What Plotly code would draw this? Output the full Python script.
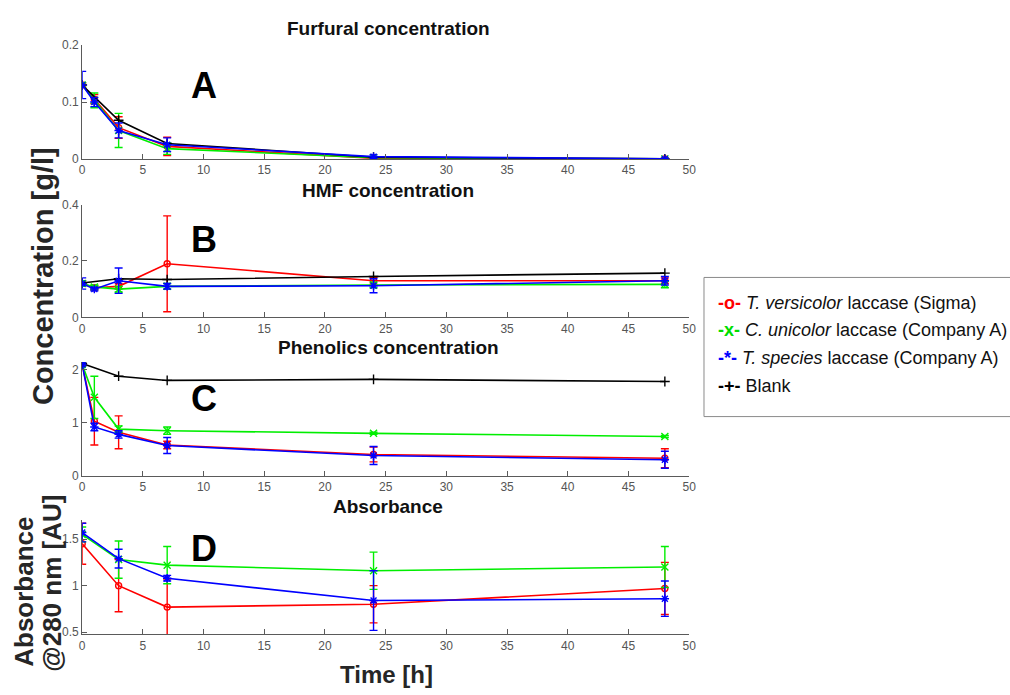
import plotly.graph_objects as go

W, H = 1010, 695

# Sampling times [h]
t_enz = [0, 1, 3, 7, 24, 48]
t_blank = [0, 3, 7, 24, 48]
t_abs = [0, 3, 7, 24, 48]

# A: furfural [g/l]
fur_red = [0.13, 0.105, 0.055, 0.022, 0.001, 0.0]
fur_red_err = [0.004, 0.008, 0.019, 0.016, 0.002, 0.001]
fur_green = [0.13, 0.103, 0.05, 0.018, 0.002, 0.0]
fur_green_err = [0.004, 0.013, 0.03, 0.01, 0.002, 0.001]
fur_blue = [0.13, 0.1, 0.05, 0.025, 0.004, 0.0]
fur_blue_err = [0.024, 0.008, 0.013, 0.012, 0.003, 0.001]
fur_black = [0.13, 0.068, 0.027, 0.003, 0.0]

# B: HMF [g/l]
hmf_red = [0.12, 0.105, 0.11, 0.19, 0.13, 0.13]
hmf_red_err = [0.01, 0.008, 0.01, 0.17, 0.012, 0.01]
hmf_green = [0.12, 0.108, 0.1, 0.11, 0.115, 0.117]
hmf_green_err = [0.01, 0.006, 0.01, 0.01, 0.01, 0.012]
hmf_blue = [0.12, 0.1, 0.13, 0.11, 0.112, 0.13]
hmf_blue_err = [0.02, 0.006, 0.045, 0.01, 0.025, 0.015]
hmf_black = [0.122, 0.137, 0.134, 0.145, 0.157]

# C: phenolics [g/l]
phe_red = [2.1, 1.03, 0.82, 0.58, 0.4, 0.33]
phe_red_err = [0.03, 0.45, 0.31, 0.07, 0.14, 0.18]
phe_green = [2.1, 1.48, 0.88, 0.85, 0.8, 0.74]
phe_green_err = [0.03, 0.4, 0.06, 0.07, 0.02, 0.02]
phe_blue = [2.1, 0.92, 0.78, 0.57, 0.38, 0.3]
phe_blue_err = [0.03, 0.07, 0.07, 0.15, 0.17, 0.16]
phe_black = [2.12, 1.88, 1.8, 1.82, 1.78]

# D: absorbance at 280 nm [AU]
abs_red = [1.45, 1.0, 0.77, 0.8, 0.97]
abs_red_err = [0.22, 0.28, 0.3, 0.2, 0.28]
abs_green = [1.55, 1.28, 1.22, 1.16, 1.2]
abs_green_err = [0.08, 0.2, 0.2, 0.2, 0.22]
abs_blue = [1.57, 1.29, 1.08, 0.84, 0.86]
abs_blue_err = [0.1, 0.1, 0.03, 0.32, 0.19]

panel_titles = ["Furfural concentration", "HMF concentration",
                "Phenolics concentration", "Absorbance"]
panel_letters = ["A", "B", "C", "D"]
y_ranges = [[0, 0.2], [0, 0.4], [0, 2.15], [0.48, 1.7]]
y_ticks = [[0, 0.1, 0.2], [0, 0.2, 0.4], [0, 1, 2], [0.5, 1, 1.5]]
x_ticks = list(range(0, 55, 5))

RED, GREEN, BLUE, BLACK = "#ff0000", "#00ee00", "#0000ff", "#000000"
FONT = "Liberation Sans"

# plot-area pixel boxes (top, bottom) per panel
px_left, px_right = 80, 693
px_boxes = [(39, 155), (201.7, 316.7), (362.2, 478.3), (524, 640)]

fig = go.Figure()


def add_series(idx, x, y, err, color, symbol, size):
    ax = "" if idx == 0 else str(idx + 1)
    kw = {}
    if err is not None:
        kw["error_y"] = dict(type="data", array=err, color=color,
                             thickness=1.4, width=4)
    fig.add_trace(go.Scatter(
        x=x, y=y, mode="lines+markers",
        line=dict(color=color, width=1.6),
        marker=dict(symbol=symbol, size=size, color=color,
                    line=dict(color=color, width=1.4)),
        xaxis="x" + ax, yaxis="y" + ax, showlegend=False, **kw))


panels = [
    (t_enz, fur_red, fur_red_err, fur_green, fur_green_err,
     fur_blue, fur_blue_err, fur_black),
    (t_enz, hmf_red, hmf_red_err, hmf_green, hmf_green_err,
     hmf_blue, hmf_blue_err, hmf_black),
    (t_enz, phe_red, phe_red_err, phe_green, phe_green_err,
     phe_blue, phe_blue_err, phe_black),
    (t_abs, abs_red, abs_red_err, abs_green, abs_green_err,
     abs_blue, abs_blue_err, None),
]

for i, (tx, r, re, g, ge, b, be, k) in enumerate(panels):
    add_series(i, tx, r, re, RED, "circle-open", 6)
    add_series(i, tx, g, ge, GREEN, "x-thin-open", 7)
    if k is not None:
        add_series(i, t_blank, k, None, BLACK, "cross-thin-open", 7)
    add_series(i, tx, b, be, BLUE, "asterisk-open", 7)

axis_common = dict(showline=True, linecolor="#5a5a5a", linewidth=1,
                   ticks="inside", ticklen=5, tickcolor="#5a5a5a",
                   showgrid=False, zeroline=False,
                   tickfont=dict(family=FONT, size=12, color="#555555"))

layout = {}
for i in range(4):
    top, bot = px_boxes[i]
    sfx = "" if i == 0 else str(i + 1)
    layout["xaxis" + sfx] = dict(
        domain=[px_left / W, px_right / W], range=[0, 50],
        tickvals=x_ticks, anchor="y" + sfx, **axis_common)
    layout["yaxis" + sfx] = dict(
        domain=[1 - bot / H, 1 - top / H], range=y_ranges[i],
        tickvals=y_ticks[i], anchor="x" + sfx, **axis_common)

fig.update_layout(
    width=W, height=H, margin=dict(l=0, r=0, t=0, b=0),
    paper_bgcolor="white", plot_bgcolor="white", **layout)


def label(text, x, y, size, color, angle=0, anchor="center"):
    return dict(text=text, x=x / W, y=1 - y / H, xref="paper",
                yref="paper", showarrow=False, textangle=angle,
                xanchor=anchor, yanchor="middle",
                font=dict(family=FONT, size=size, color=color))


title_y = [22, 187, 348, 510]
letter_y = [80, 237, 400, 553]
ann = []
for i in range(4):
    ann.append(label("<b>%s</b>" % panel_titles[i], 389, title_y[i], 19,
                     "#111111"))
    ann.append(label("<b>%s</b>" % panel_letters[i], 203, letter_y[i], 36,
                     "#000000"))

ann.append(label("<b>Concentration [g/l]</b>", 41, 275, 29, "#262626",
                 angle=-90))
ann.append(label("<b>Absorbance</b>", 21, 597, 26, "#262626", angle=-90))
ann.append(label("<b>@280 nm [AU]</b>", 50, 588, 26, "#262626", angle=-90))
ann.append(label("<b>Time [h]</b>", 387, 681, 24, "#262626"))

# legend drawn as a boxed text block
legend_rows = [
    ("-o-", RED, "<i>T. versicolor</i> laccase (Sigma)"),
    ("-x-", "#00dd00", "<i>C. unicolor</i> laccase (Company A)"),
    ("-*-", BLUE, "<i>T. species</i> laccase (Company A)"),
    ("-+-", BLACK, "Blank"),
]
row_y = [302, 330, 358, 387]
for (sym, col, text), yy in zip(legend_rows, row_y):
    ann.append(label("<span style='color:%s'><b>%s</b></span> %s"
                     % (col, sym, text), 720, yy, 18, "#111111",
                     anchor="left"))

fig.update_layout(annotations=ann, shapes=[dict(
    type="rect", xref="paper", yref="paper",
    x0=708 / W, x1=1020 / W, y0=1 - 418 / H, y1=1 - 276 / H,
    line=dict(color="#8a8a8a", width=1))])

fig.write_html("out.html")
